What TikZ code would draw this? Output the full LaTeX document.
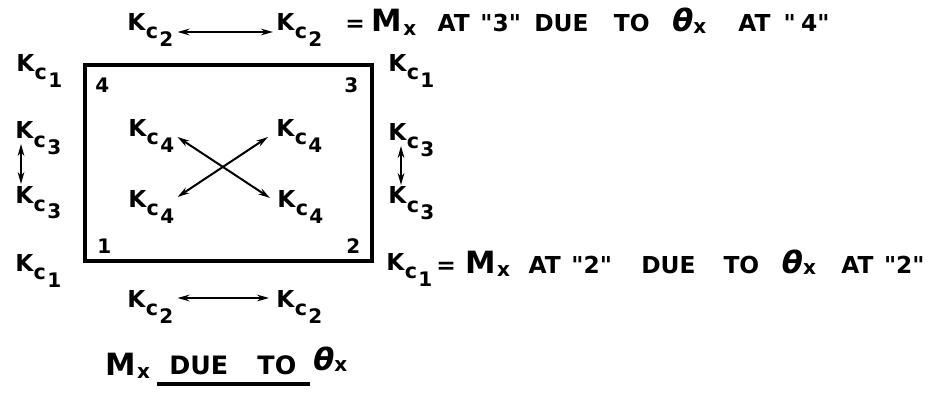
\documentclass[tikz,border=0pt]{standalone}
\usepackage{fontspec}
\setmainfont{DejaVu Sans}[Ligatures=TeXOff]
\usetikzlibrary{arrows.meta,calc}
\newcommand{\Kc}[1]{{\fontsize{17.5}{18}\selectfont K}\kern0.3pt\raisebox{-6pt}{\fontsize{15.5}{16}\selectfont c}\kern1pt\raisebox{-12pt}{\fontsize{15}{16}\selectfont #1}}
\newcommand{\Mx}{{\fontsize{23}{23}\selectfont M}\kern1pt\raisebox{-2.5pt}{\fontsize{15}{15}\selectfont x}}
\newcommand{\thx}{{\fontsize{23}{23}\selectfont\itshape θ}\raisebox{-1pt}{\fontsize{15}{15}\selectfont x}}

\begin{document}
\begin{tikzpicture}[x=0.75pt,y=-0.75pt,>={Stealth[length=9pt,width=5pt]},
  lbl/.style={inner sep=0pt,anchor=base west,font=\bfseries},
  num/.style={inner sep=0pt,anchor=base west,font=\bfseries\fontsize{15}{15}\selectfont},
  dbl/.style={<->,line width=1.5pt}]
\useasboundingbox (0,0) rectangle (931,399);
% plate
\draw[line width=3pt] (85,65) rectangle (372,261);
\node[num] (n4) at (95,93) {4};
\node[num] (n3) at (344,93) {3};
\node[num] (n1) at (97,253) {1};
\node[num] (n2) at (346,253) {2};
% top and bottom
\node[lbl] (tl2) at (127,31) {\Kc{2}};
\node[lbl] (tr2) at (276,31) {\Kc{2}};
\node[lbl] (bl2) at (127,307) {\Kc{2}};
\node[lbl] (br2) at (276,307) {\Kc{2}};
\draw[dbl] ($(tl2.base east)+(4,1)$) -- ($(tr2.base west)+(-3,1)$);
\draw[dbl] ($(bl2.base east)+(4,-9)$) -- ($(br2.base west)+(-7,-9)$);
% left side
\node[lbl] (l1a) at (16,72) {\Kc{1}};
\node[lbl] (l3a) at (15,139) {\Kc{3}};
\node[lbl] (l3b) at (15,203) {\Kc{3}};
\node[lbl] (l1b) at (15,271) {\Kc{1}};
\draw[dbl] ($(l3a.base west)+(6,5)$) -- ($(l3b.base west)+(6,-19)$);
% right side
\node[lbl] (r1a) at (388,72) {\Kc{1}};
\node[lbl] (r3a) at (388,141) {\Kc{3}};
\node[lbl] (r3b) at (388,204) {\Kc{3}};
\node[lbl] (r1b) at (386,270) {\Kc{1}};
\draw[dbl] ($(r3a.base west)+(13,5)$) -- ($(r3b.base west)+(13,-19)$);
% inside
\node[lbl] (i4a) at (128,137) {\Kc{4}};
\node[lbl] (i4b) at (276,137) {\Kc{4}};
\node[lbl] (i4c) at (128,207) {\Kc{4}};
\node[lbl] (i4d) at (277,207) {\Kc{4}};
\draw[dbl] ($(i4a.base east)+(3,0)$) -- ($(i4d.base west)+(-7,-9)$);
\draw[dbl] ($(i4c.base east)+(3,-10)$) -- ($(i4b.base west)+(-8,0)$);
% equations
\node[lbl,font=\bfseries\fontsize{17.5}{18}\selectfont] (eqt) at (345,32)
  {=\kern5pt\Mx\hspace{16pt}AT\hspace{8pt}"3"\hspace{10pt}DUE\hspace{19pt}TO\hspace{17pt}\thx\hspace{24pt}AT\hspace{10pt}"\kern4pt4"};
\node[lbl,font=\bfseries\fontsize{17.5}{18}\selectfont] (eqb) at (436,273)
  {=\kern7pt\Mx\hspace{14pt}AT\hspace{8pt}"2"\hspace{22pt}DUE\hspace{21pt}TO\hspace{17pt}\thx\hspace{19pt}AT\hspace{8pt}"2"};
% caption
\node[lbl] (capm) at (105,375) {\Mx};
\node[lbl,font=\bfseries\fontsize{19}{19}\selectfont] (capdue) at (169,374) {DUE\hspace{22pt}TO};
\node[lbl] (capth) at (313,370) {\thx};
\draw[line width=2.4pt] ($(capdue.base west)+(-12,10)$) -- ($(capdue.base east)+(13,10)$);
\end{tikzpicture}
\end{document}
